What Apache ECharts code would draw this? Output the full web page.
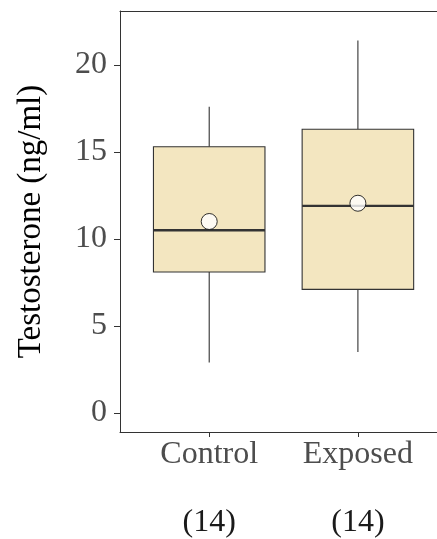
<!DOCTYPE html>
<html>
<head>
<meta charset="utf-8">
<script src="https://cdn.jsdelivr.net/npm/echarts@6/dist/echarts.min.js"></script>
<style>
  html, body { margin: 0; padding: 0; background: #fff; }
  #chart { width: 437px; height: 539px; }
</style>
</head>
<body>
<div id="chart"></div>
<script>
// Testosterone by group: box = quartiles, whiskers, white dot = mean
const categories = ['Control', 'Exposed'];
const counts = [14, 14];
const whiskerLow = [2.9, 3.5];
const q1 = [8.1, 7.1];
const median = [10.5, 11.9];
const q3 = [15.3, 16.3];
const whiskerHigh = [17.6, 21.4];
const means = [11.0, 12.05];
const yTicks = [0, 5, 10, 15, 20];

const FONT = '"Liberation Serif", "DejaVu Serif", serif';
const BOX_WIDTH = 0.75;
// panel runs past the right edge of the canvas, so the x range stops short of 2.6
const X_MIN = 0.4, X_MAX = 2.532;
const AXIS_COLOR = '#333333';

const boxData = categories.map((c, i) => [i + 1, whiskerLow[i], q1[i], median[i], q3[i], whiskerHigh[i]]);
const meanData = categories.map((c, i) => [i + 1, means[i]]);

function renderBox(params, api) {
  const x = api.value(0);
  const half = BOX_WIDTH / 2;
  const pLow = api.coord([x, api.value(1)]);
  const pQ1 = api.coord([x, api.value(2)]);
  const pMed = api.coord([x, api.value(3)]);
  const pQ3 = api.coord([x, api.value(4)]);
  const pHigh = api.coord([x, api.value(5)]);
  const left = api.coord([x - half, 0])[0];
  const right = api.coord([x + half, 0])[0];
  const lineStyle = { stroke: AXIS_COLOR, lineWidth: 1.1 };
  return {
    type: 'group',
    children: [
      { type: 'line', shape: { x1: pQ3[0], y1: pQ3[1], x2: pHigh[0], y2: pHigh[1] }, style: lineStyle },
      { type: 'line', shape: { x1: pQ1[0], y1: pQ1[1], x2: pLow[0], y2: pLow[1] }, style: lineStyle },
      { type: 'rect', shape: { x: left, y: pQ3[1], width: right - left, height: pQ1[1] - pQ3[1] },
        style: { fill: '#F3E6C0', stroke: AXIS_COLOR, lineWidth: 1.1 } },
      { type: 'line', shape: { x1: left, y1: pMed[1], x2: right, y2: pMed[1] },
        style: { stroke: AXIS_COLOR, lineWidth: 2.4 } }
    ]
  };
}

const chart = echarts.init(document.getElementById('chart'), null, { renderer: 'canvas' });
chart.setOption({
  animation: false,
  backgroundColor: '#ffffff',
  grid: { left: 120, top: 11, right: 0, bottom: 107, show: false },
  xAxis: [
    {
      type: 'value',
      position: 'bottom',
      min: X_MIN, max: X_MAX,
      splitLine: { show: false },
      axisLine: { show: true, onZero: false, lineStyle: { color: AXIS_COLOR, width: 1 } },
      axisTick: { show: true, length: 5, customValues: [1, 2], lineStyle: { color: AXIS_COLOR } },
      axisLabel: {
        customValues: [1, 2],
        margin: 6,
        formatter: v => '{a|' + categories[v - 1] + '}\n{s| }\n{b|(' + counts[v - 1] + ')}',
        rich: {
          a: { fontFamily: FONT, fontSize: 32, color: '#4D4D4D', lineHeight: 34 },
          s: { fontFamily: FONT, fontSize: 32, lineHeight: 34 },
          b: { fontFamily: FONT, fontSize: 32, color: '#1a1a1a', lineHeight: 34 }
        }
      }
    },
    {
      // top edge of the panel
      type: 'value',
      position: 'top',
      min: X_MIN, max: X_MAX,
      splitLine: { show: false },
      axisLine: { show: true, onZero: false, lineStyle: { color: AXIS_COLOR, width: 1 } },
      axisTick: { show: false },
      axisLabel: { show: false }
    }
  ],
  yAxis: {
    type: 'value',
    min: -1.1, max: 23.1,
    splitLine: { show: false },
    axisLine: { show: true, onZero: false, lineStyle: { color: AXIS_COLOR, width: 1 } },
    axisTick: { show: true, length: 6, customValues: yTicks, lineStyle: { color: AXIS_COLOR } },
    axisLabel: {
      customValues: yTicks,
      margin: 13,
      fontFamily: FONT, fontSize: 32, color: '#4D4D4D'
    },
    name: 'Testosterone (ng/ml)',
    nameLocation: 'middle',
    nameGap: 72,
    nameRotate: 90,
    nameTextStyle: { fontFamily: FONT, fontSize: 33, color: '#000000' }
  },
  series: [
    {
      type: 'custom',
      renderItem: renderBox,
      data: boxData,
      encode: { x: 0, y: [1, 2, 3, 4, 5] },
      z: 2
    },
    {
      type: 'scatter',
      data: meanData,
      symbol: 'circle',
      symbolSize: 16,
      itemStyle: { color: '#ffffff', borderColor: '#000000', borderWidth: 1 },
      z: 3
    }
  ]
});
</script>
</body>
</html>
